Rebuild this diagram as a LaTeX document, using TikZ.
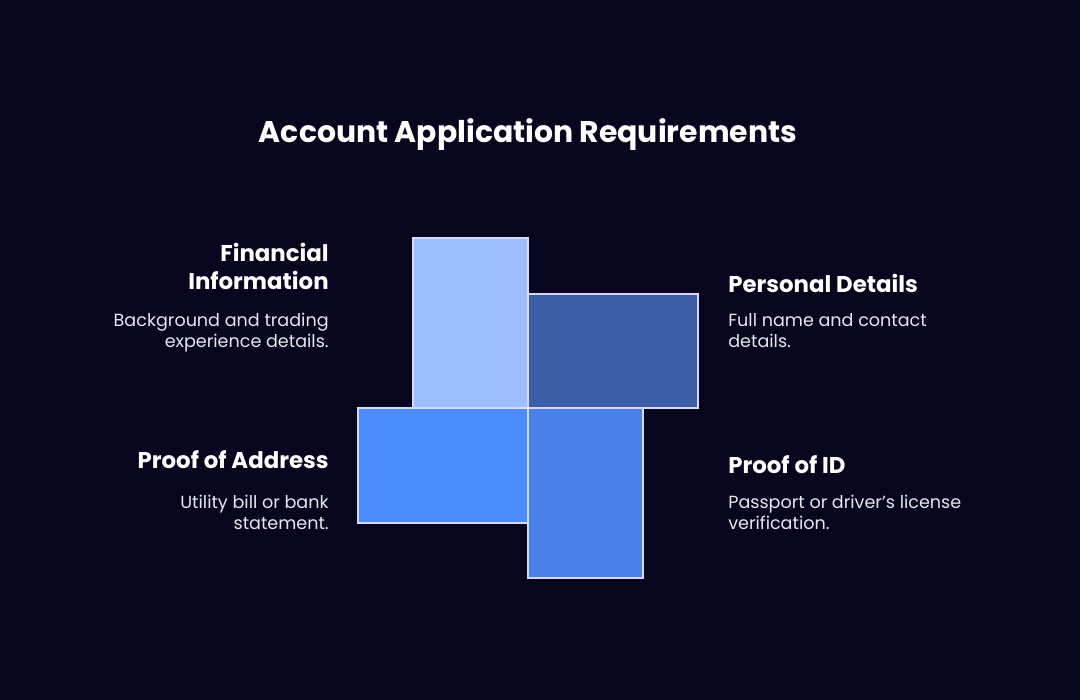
\documentclass[tikz,border=0pt]{standalone}
\usepackage{fontspec}
\setmainfont{Poppins}
\usetikzlibrary{positioning}
\definecolor{bgnight}{HTML}{08061F}
\definecolor{palesky}{HTML}{9DBEFF}
\definecolor{deepblue}{HTML}{3D5FA8}
\definecolor{brightblue}{HTML}{4A8CFF}
\definecolor{midblue}{HTML}{4A80E8}
\definecolor{bodygrey}{HTML}{E6E6EE}
\tikzset{
  block/.style={draw=white!85!blue, line width=0.8pt},
  head/.style={text=white, font=\fontsize{13}{15}\selectfont\bfseries, inner sep=0pt},
  body/.style={text=bodygrey, font=\fontsize{10}{12}\selectfont, inner sep=0pt},
}
\begin{document}
\begin{tikzpicture}[x=0.02cm, y=-0.02cm]
  \fill[bgnight] (0,0) rectangle (1080,700);
  \useasboundingbox (0,0) rectangle (1080,700);
  \node[text=white, font=\fontsize{17}{20}\selectfont\bfseries] (title) at (528,135) {Account Application Requirements};
  % blocks
  \draw[block, fill=palesky] (413,238) rectangle (528,408);
  \draw[block, fill=deepblue] (528,294) rectangle (698,408);
  \draw[block, fill=brightblue] (358,408) rectangle (528,523);
  \draw[block, fill=midblue] (528,408) rectangle (643,578);
  % left texts
  \node[head, anchor=north east, align=right] (finhead) at (329,243) {Financial\\[1pt]Information};
  \node[body, anchor=north east, align=right] (finbody) at (329,313) {Background and trading\\experience details.};
  \node[head, anchor=north east, align=right] (addrhead) at (329,450) {Proof of Address};
  \node[body, anchor=north east, align=right] (addrbody) at (329,495) {Utility bill or bank\\statement.};
  % right texts
  \node[head, anchor=north west, align=left] (perhead) at (728,274) {Personal Details};
  \node[body, anchor=north west, align=left] (perbody) at (728,313) {Full name and contact\\details.};
  \node[head, anchor=north west, align=left] (idhead) at (728,455) {Proof of ID};
  \node[body, anchor=north west, align=left] (idbody) at (728,495) {Passport or driver's license\\verification.};
\end{tikzpicture}
\end{document}
